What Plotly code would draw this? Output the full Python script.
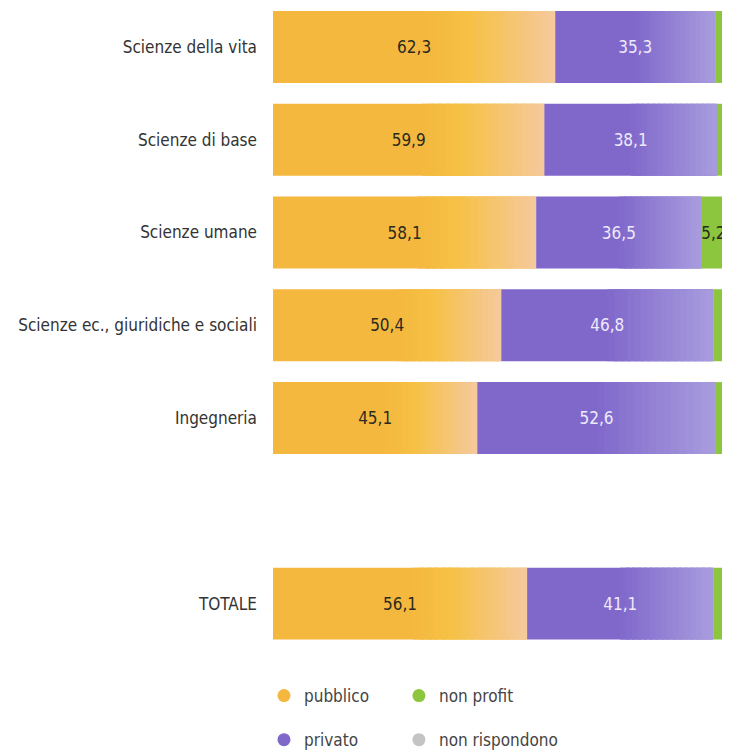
import plotly.graph_objects as go

# ---- data ----
categories = ["Scienze della vita", "Scienze di base", "Scienze umane",
              "Scienze ec., giuridiche e sociali", "Ingegneria", "TOTALE"]
pubblico = [62.3, 59.9, 58.1, 50.4, 45.1, 56.1]
privato = [35.3, 38.1, 36.5, 46.8, 52.6, 41.1]
non_profit = [2.4, 2.0, 5.2, 2.7, 2.3, 2.7]
non_rispondono = [0.0, 0.0, 0.2, 0.1, 0.0, 0.1]
series_names = ["pubblico", "privato", "non profit", "non rispondono"]

# axis order (blank row between Ingegneria and TOTALE)
axis_order = categories[:5] + [" "] + categories[5:]

FONT = "DejaVu Sans Condensed, Liberation Sans Narrow, Roboto Condensed, Roboto, sans-serif"
FS = 17

orange_stops = [(0.0, "#F5B83F"), (0.55, "#F5B83F"), (0.70, "#F6C145"), (1.0, "#F5C99E")]
purple_stops = [(0.0, "#8068CB"), (0.50, "#8068CB"), (1.0, "#A99DDE")]
green = "#8CC63E"
grey = "#C4C4C4"


def hex2rgb(h):
    h = h.lstrip("#")
    return tuple(int(h[i:i + 2], 16) for i in (0, 2, 4))


def interp(stops, t):
    for (t0, c0), (t1, c1) in zip(stops[:-1], stops[1:]):
        if t <= t1:
            a = 0 if t1 == t0 else (t - t0) / (t1 - t0)
            r0, g0, b0 = hex2rgb(c0)
            r1, g1, b1 = hex2rgb(c1)
            return "rgb(%d,%d,%d)" % (round(r0 + (r1 - r0) * a),
                                      round(g0 + (g1 - g0) * a),
                                      round(b0 + (b1 - b0) * a))
    return stops[-1][1]


def fmt(v):
    return ("%.1f" % v).replace(".", ",")


fig = go.Figure()

segments = [
    (pubblico, orange_stops, 0.55),
    (privato, purple_stops, 0.50),
    (non_profit, [(0, green), (1, green)], None),
    (non_rispondono, [(0, grey), (1, grey)], None),
]

cum = [0.0] * len(categories)
bases = []
N = 16
for values, stops, f0 in segments:
    base = cum[:]
    bases.append(base)
    fig.add_trace(go.Bar(y=categories, x=values, base=base, orientation="h",
                         marker=dict(color=stops[0][1], line=dict(width=0)),
                         showlegend=False, hoverinfo="skip"))
    if f0 is not None:
        for k in range(N):
            t0 = f0 + (1 - f0) * k / N
            t1 = f0 + (1 - f0) * (k + 1) / N
            t1e = min(1.0, t1 + (1 - f0) / N * 0.6)
            fig.add_trace(go.Bar(
                y=categories,
                x=[v * (t1e - t0) for v in values],
                base=[b + v * t0 for b, v in zip(base, values)],
                orientation="h",
                marker=dict(color=interp(stops, (t0 + t1) / 2), line=dict(width=0)),
                showlegend=False, hoverinfo="skip"))
    cum = [c + v for c, v in zip(cum, values)]

# value labels
label_specs = [
    (pubblico, bases[0], [fmt(v) for v in pubblico], "#2A2A1E"),
    (privato, bases[1], [fmt(v) for v in privato], "#EEEAFA"),
    (non_profit, bases[2], [fmt(v) if v >= 5 else "" for v in non_profit], "#2A2A1E"),
]
for values, base, texts, col in label_specs:
    fig.add_trace(go.Bar(y=categories, x=values, base=base, orientation="h",
                         marker=dict(color="rgba(0,0,0,0)", line=dict(width=0)),
                         text=texts, textposition="inside", insidetextanchor="middle",
                         textangle=0, cliponaxis=False,
                         textfont=dict(family=FONT, size=FS, color=col),
                         showlegend=False, hoverinfo="skip"))

# legend entries (circles)
legend_colors = ["#F5B83F", "#8068CB", green, grey]
legend_ids = ["legend", "legend", "legend2", "legend2"]
for name, col, lg in zip(series_names, legend_colors, legend_ids):
    fig.add_trace(go.Scatter(x=[None], y=[" "], mode="markers", name=name,
                             legendgroup=name, legend=lg,
                             marker=dict(symbol="circle", size=13, color=col)))

legend_common = dict(orientation="v", yanchor="top", xanchor="left",
                     font=dict(family=FONT, size=FS, color="#444444"),
                     tracegroupgap=19, bgcolor="rgba(0,0,0,0)", itemwidth=30)

fig.update_layout(
    width=722, height=743,
    margin=dict(l=265, r=4, t=0, b=101, autoexpand=False),
    barmode="overlay", bargap=0.225,
    plot_bgcolor="white", paper_bgcolor="white",
    uniformtext=dict(mode="show", minsize=FS),
    xaxis=dict(range=[0, 100], visible=False, fixedrange=True),
    yaxis=dict(categoryorder="array", categoryarray=list(reversed(axis_order)),
               range=[-0.5, len(axis_order) - 0.58],
               showgrid=False, zeroline=False, showline=False, ticks="",
               ticklabelstandoff=15,
               tickfont=dict(family=FONT, size=FS, color="#333333")),
    legend=dict(x=-0.0199, y=-0.0437, **legend_common),
    legend2=dict(x=0.278, y=-0.0437, **legend_common),
    showlegend=True,
)

fig.write_html("out.html")
